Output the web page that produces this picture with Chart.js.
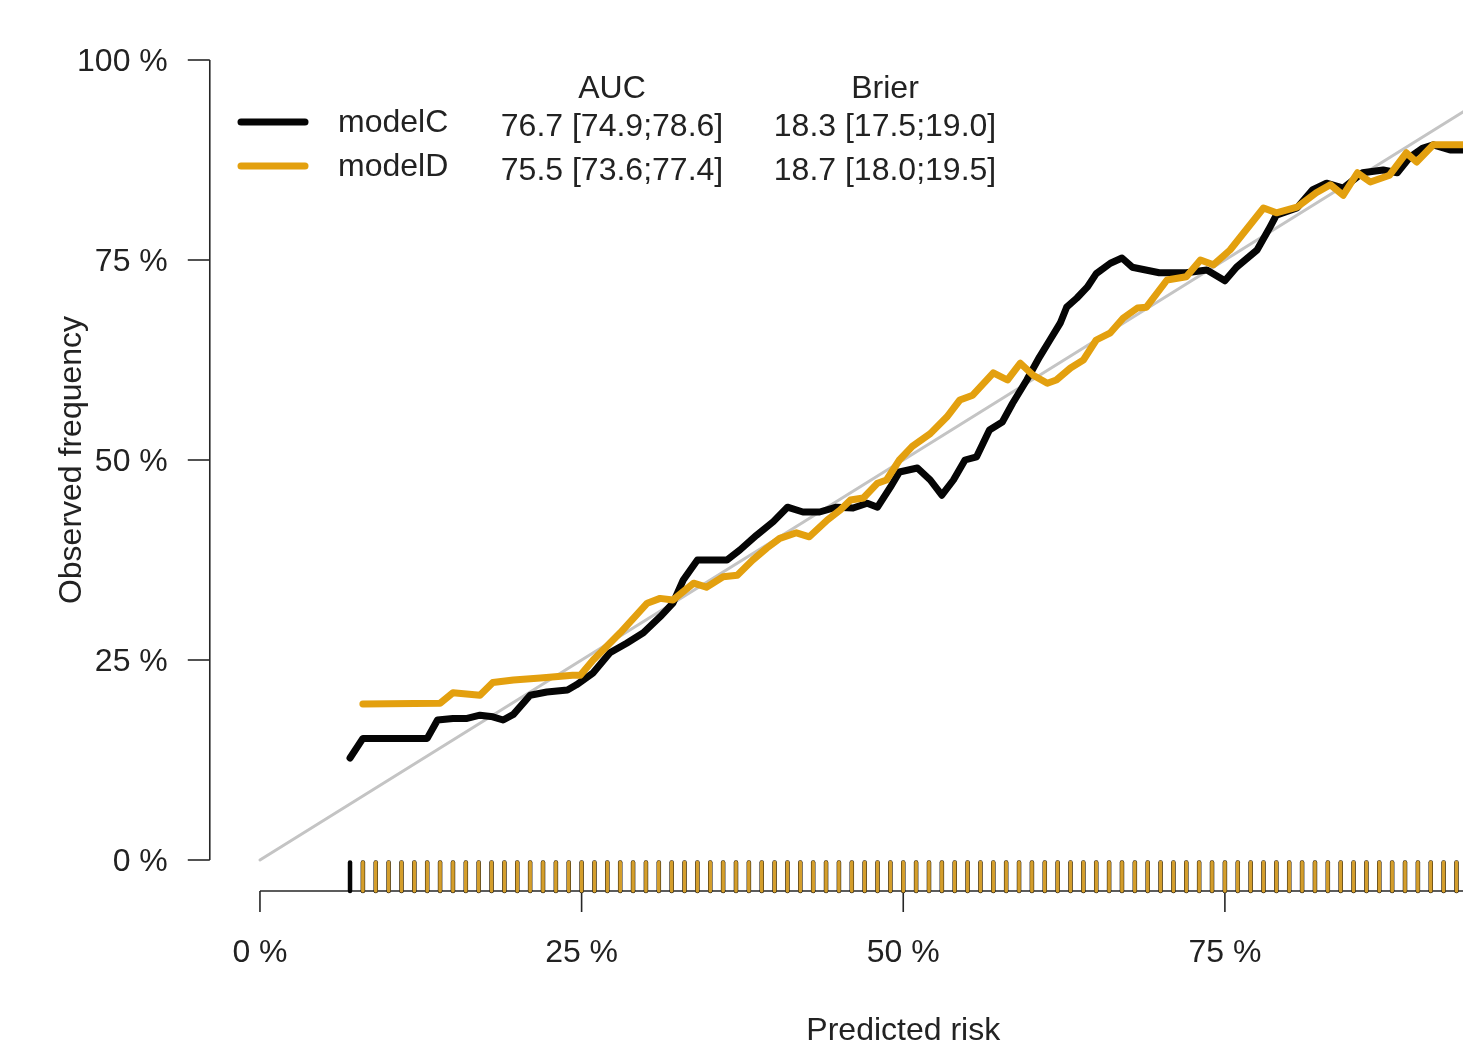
<!DOCTYPE html>
<html>
<head>
<meta charset="utf-8">
<script src="https://cdn.jsdelivr.net/npm/chart.js@4"></script>
<style>
  html, body { margin: 0; padding: 0; background: #fff; overflow: hidden; }
  #wrap { width: 1463px; height: 1045px; overflow: hidden; }
</style>
</head>
<body>
<div id="wrap"><canvas id="cal" width="1650" height="1045"></canvas></div>
<script>
// --- calibration curves (predicted risk %, observed frequency %) ---
const predC = [7.0, 8.0, 13.0, 13.8, 15.0, 16.1, 17.1, 18.1, 18.9, 19.7, 21.0, 22.3, 23.9, 24.6, 25.9, 27.2, 28.5, 29.8, 31.1, 32.1,
  32.9, 34.0, 36.3, 37.3, 38.6, 39.9, 41.0, 42.2, 43.5, 44.8, 46.1, 47.2, 48.0, 49.0, 49.7, 51.1, 52.1, 53.0, 53.9, 54.8,
  55.7, 56.7, 57.7, 58.5, 59.6, 60.6, 61.4, 62.2, 62.7, 63.5, 64.3, 65.0, 66.1, 67.0, 67.8, 69.9, 72.0, 73.6, 75.0, 75.9,
  77.5, 78.5, 79.0, 80.6, 81.8, 82.9, 84.2, 85.7, 87.3, 88.4, 89.4, 90.4, 91.2, 92.5, 96.0];
const obsC = [12.75, 15.2, 15.2, 17.5, 17.7, 17.7, 18.1, 17.9, 17.5, 18.2, 20.6, 21.0, 21.25, 21.9, 23.4, 25.9, 27.1, 28.4, 30.4, 32.1,
  35.0, 37.5, 37.5, 38.75, 40.6, 42.3, 44.1, 43.5, 43.5, 44.1, 44.0, 44.6, 44.1, 46.6, 48.5, 49.0, 47.5, 45.6, 47.5, 50.0,
  50.4, 53.75, 54.75, 57.1, 60.0, 62.9, 65.0, 67.1, 69.1, 70.25, 71.6, 73.3, 74.6, 75.25, 74.1, 73.4, 73.4, 73.75, 72.4, 74.1,
  76.25, 79.1, 80.6, 81.5, 83.75, 84.6, 84.0, 85.9, 86.25, 85.9, 87.9, 89.0, 89.4, 88.75, 88.75];

const predD = [8.0, 14.0, 15.0, 17.1, 18.1, 19.7, 21.8, 24.3, 24.9, 25.9, 28.0, 30.1, 31.1, 32.1, 33.7, 34.7, 36.0, 37.1, 38.3, 39.4,
  40.4, 41.7, 42.7, 44.1, 45.1, 45.9, 46.9, 48.0, 48.7, 49.7, 50.7, 52.1, 53.4, 54.4, 55.4, 57.0, 58.1, 59.1, 60.1, 61.2,
  61.9, 63.0, 64.0, 65.0, 66.1, 67.1, 68.2, 68.9, 70.5, 72.0, 73.1, 74.1, 75.4, 78.0, 79.0, 80.6, 82.1, 83.2, 84.2, 85.3,
  86.3, 87.8, 89.1, 89.9, 91.2, 96.0];
const obsD = [19.5, 19.6, 20.9, 20.6, 22.2, 22.5, 22.75, 23.1, 23.1, 25.0, 28.4, 32.1, 32.7, 32.5, 34.6, 34.1, 35.4, 35.6, 37.5, 39.0,
  40.2, 40.9, 40.4, 42.5, 43.75, 45.0, 45.25, 47.1, 47.5, 50.0, 51.7, 53.3, 55.4, 57.5, 58.1, 60.9, 60.0, 62.1, 60.6, 59.6,
  60.0, 61.5, 62.5, 65.0, 65.9, 67.75, 69.0, 69.1, 72.5, 72.9, 75.0, 74.4, 76.25, 81.5, 80.9, 81.6, 83.4, 84.4, 83.1, 85.9,
  84.75, 85.6, 88.4, 87.25, 89.4, 89.4];

// rug of predicted risks
const rugC = [7, 8, 9, 10, 11, 12, 13, 14, 15, 16, 17, 18, 19, 20, 21, 22, 23, 24, 25, 26, 27, 28, 29, 30, 31, 32, 33, 34, 35, 36,
  37, 38, 39, 40, 41, 42, 43, 44, 45, 46, 47, 48, 49, 50, 51, 52, 53, 54, 55, 56, 57, 58, 59, 60, 61, 62, 63, 64, 65, 66,
  67, 68, 69, 70, 71, 72, 73, 74, 75, 76, 77, 78, 79, 80, 81, 82, 83, 84, 85, 86, 87, 88, 89, 90, 91, 92, 93, 94, 95];
const rugD = [8, 9, 10, 11, 12, 13, 14, 15, 16, 17, 18, 19, 20, 21, 22, 23, 24, 25, 26, 27, 28, 29, 30, 31, 32, 33, 34, 35, 36,
  37, 38, 39, 40, 41, 42, 43, 44, 45, 46, 47, 48, 49, 50, 51, 52, 53, 54, 55, 56, 57, 58, 59, 60, 61, 62, 63, 64, 65, 66,
  67, 68, 69, 70, 71, 72, 73, 74, 75, 76, 77, 78, 79, 80, 81, 82, 83, 84, 85, 86, 87, 88, 89, 90, 91, 92, 93, 94, 95];

// axes
const xTicks = [0, 25, 50, 75, 100];
const xTickLabels = ['0 %', '25 %', '50 %', '75 %', '100 %'];
const yTicks = [0, 25, 50, 75, 100];
const yTickLabels = ['0 %', '25 %', '50 %', '75 %', '100 %'];

// legend table
const modelNames = ['modelC', 'modelD'];
const aucText = ['76.7 [74.9;78.6]', '75.5 [73.6;77.4]'];
const brierText = ['18.3 [17.5;19.0]', '18.7 [18.0;19.5]'];

const BLACK = '#050505';
const GOLD = '#E3A00F';
const FONT = '32px "Liberation Sans", Arial, sans-serif';
const INK = '#222';

const rAxes = {
  id: 'rAxes',
  afterDraw(chart) {
    const { ctx } = chart;
    const x = chart.scales.x, y = chart.scales.y;
    ctx.save();
    ctx.fillStyle = INK;
    ctx.strokeStyle = '#262626';
    ctx.lineWidth = 1.6;
    ctx.font = FONT;

    // y axis
    const ax = x.getPixelForValue(-3.9);
    ctx.beginPath();
    ctx.moveTo(ax, y.getPixelForValue(0));
    ctx.lineTo(ax, y.getPixelForValue(100));
    ctx.stroke();
    ctx.textAlign = 'right';
    ctx.textBaseline = 'middle';
    yTicks.forEach((v, i) => {
      const py = y.getPixelForValue(v);
      ctx.beginPath();
      ctx.moveTo(ax, py);
      ctx.lineTo(ax - 22, py);
      ctx.stroke();
      ctx.fillText(yTickLabels[i], ax - 42, py + 2);
    });

    // x axis
    const ay = y.getPixelForValue(-3.875);
    ctx.beginPath();
    ctx.moveTo(x.getPixelForValue(0), ay);
    ctx.lineTo(x.getPixelForValue(100), ay);
    ctx.stroke();
    ctx.textAlign = 'center';
    xTicks.forEach((v, i) => {
      const px = x.getPixelForValue(v);
      ctx.beginPath();
      ctx.moveTo(px, ay);
      ctx.lineTo(px, ay + 21);
      ctx.stroke();
      ctx.fillText(xTickLabels[i], px, ay + 62);
    });

    // rug
    const top = y.getPixelForValue(-0.3);
    ctx.lineCap = 'round';
    ctx.strokeStyle = BLACK;
    ctx.lineWidth = 4.5;
    rugC.forEach(v => {
      const px = x.getPixelForValue(v);
      ctx.beginPath(); ctx.moveTo(px, top); ctx.lineTo(px, ay); ctx.stroke();
    });
    ctx.strokeStyle = '#d49e2c';
    ctx.lineWidth = 3.6;
    rugD.forEach(v => {
      const px = x.getPixelForValue(v);
      ctx.beginPath(); ctx.moveTo(px, top); ctx.lineTo(px, ay); ctx.stroke();
    });

    // titles
    ctx.fillStyle = INK;
    ctx.fillText('Predicted risk', (x.getPixelForValue(0) + x.getPixelForValue(100)) / 2, 1031);
    ctx.save();
    ctx.translate(72, (y.getPixelForValue(0) + y.getPixelForValue(100)) / 2);
    ctx.rotate(-Math.PI / 2);
    ctx.fillText('Observed frequency', 0, 0);
    ctx.restore();

    // legend
    const rows = [127, 171];
    const cols = [BLACK, GOLD];
    ctx.textAlign = 'center';
    ctx.fillText('AUC', 612, 89);
    ctx.fillText('Brier', 885, 89);
    rows.forEach((ry, i) => {
      ctx.strokeStyle = cols[i];
      ctx.lineWidth = 7;
      ctx.lineCap = 'round';
      ctx.beginPath();
      ctx.moveTo(241, ry - 5);
      ctx.lineTo(305, ry - 5);
      ctx.stroke();
      ctx.textAlign = 'left';
      ctx.fillText(modelNames[i], 338, ry - 4);
      ctx.textAlign = 'center';
      ctx.fillText(aucText[i], 612, ry);
      ctx.fillText(brierText[i], 885, ry);
    });
    ctx.restore();
  }
};

new Chart(document.getElementById('cal'), {
  type: 'line',
  data: {
    datasets: [
      {
        label: modelNames[1],
        data: predD.map((p, i) => ({ x: p, y: obsD[i] })),
        borderColor: GOLD, borderWidth: 7, order: 0
      },
      {
        label: modelNames[0],
        data: predC.map((p, i) => ({ x: p, y: obsC[i] })),
        borderColor: BLACK, borderWidth: 7, order: 1
      },
      {
        label: 'diagonal',
        data: [{ x: 0, y: 0 }, { x: 100, y: 100 }],
        borderColor: '#c4c4c4', borderWidth: 3, order: 2
      }
    ]
  },
  options: {
    responsive: false,
    animation: false,
    layout: { padding: { left: 208.5, right: 52, top: 28, bottom: 153 } },
    elements: {
      point: { radius: 0 },
      line: { tension: 0, borderJoinStyle: 'round', borderCapStyle: 'round', fill: false }
    },
    scales: {
      x: { type: 'linear', min: -4, max: 104, display: false },
      y: { type: 'linear', min: -4, max: 104, display: false }
    },
    plugins: { legend: { display: false }, tooltip: { enabled: false } }
  },
  plugins: [rAxes]
});
</script>
</body>
</html>
